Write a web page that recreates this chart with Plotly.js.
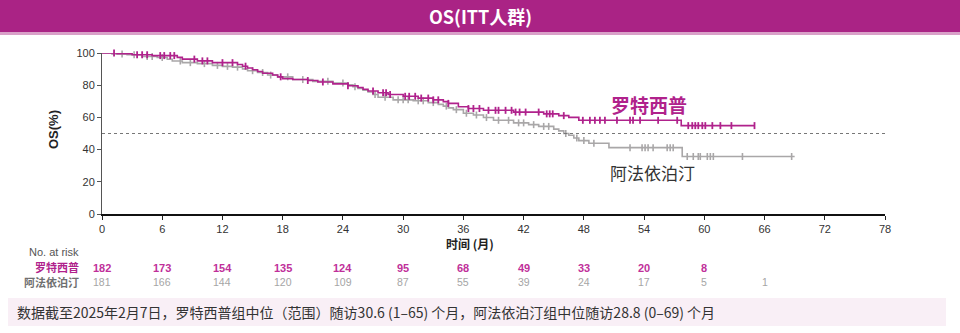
<!DOCTYPE html>
<html><head><meta charset="utf-8">
<script src="https://cdn.plot.ly/plotly-3.0.1.min.js"></script>
<style>html,body{margin:0;padding:0;background:#fff;}#chart{width:960px;height:333px;}</style>
</head><body><div id="chart"></div>
<script>
// ---- Data ----
const rusTime = [0, 1.5, 3, 5, 7.5, 8, 9.5, 11, 13.5, 14, 14.5, 15, 15.5, 16, 17, 17.5, 18, 19, 20.5, 21.5, 23, 24.5, 25.5, 26, 26.5, 27.5, 28.5, 30, 31.5, 33, 34, 34.5, 35.5, 36.5, 38, 41, 44, 45.5, 46.5, 47.5, 57.7, 65];
const rusSurv = [100, 99.5, 98.9, 98.4, 97.3, 96.2, 95.1, 94.0, 92.9, 91.8, 90.7, 89.6, 88.5, 87.4, 86.3, 85.2, 84.1, 83.5, 82.9, 82.0, 80.8, 79.7, 78.6, 77.5, 76.4, 75.3, 74.2, 73.1, 72.0, 70.9, 69.8, 68.7, 66.6, 65.5, 64.4, 63.3, 62.2, 61.1, 60.0, 58.2, 54.9, 54.9];
const rusCensor = [1.2, 3.5, 4, 4.5, 5.8, 6.2, 6.8, 7.2, 9.2, 10, 10.5, 12, 13, 14.3, 17.8, 20.5, 22, 24.5, 27, 28, 28.3, 28.7, 30.2, 30.6, 31.2, 31.8, 32.5, 33, 33.5, 34.5, 36.5, 37, 37.6, 38.5, 39.2, 39.5, 40.2, 40.8, 41.2, 41.6, 42.2, 43.5, 44.3, 44.6, 44.9, 46, 47.9, 48.6, 49.1, 49.6, 50.1, 51.3, 52.6, 52.9, 53.6, 55.4, 57.3, 58.4, 58.8, 59.1, 59.4, 59.8, 60.1, 60.8, 61.6, 62.7, 65];

const epoTime = [0, 1, 2.5, 4, 5.5, 6.5, 7, 8, 9.5, 11, 12, 13, 14, 14.5, 15.5, 16.5, 17.5, 19, 21, 23, 24.5, 25, 25.5, 26, 26.5, 27, 27.5, 29, 31, 32.5, 33.5, 34, 34.5, 35, 36, 37, 38, 39, 41, 42.5, 43.5, 45, 45.5, 46, 46.5, 47, 47.5, 48.5, 50.5, 57.8, 69];
const epoSurv = [100, 99.4, 98.9, 97.8, 97.2, 96.1, 95.0, 94.0, 93.4, 92.3, 91.7, 91.2, 90.1, 89.0, 87.9, 86.3, 85.2, 83.5, 82.4, 81.3, 80.2, 79.1, 78.0, 76.9, 75.8, 74.2, 72.5, 70.9, 70.3, 69.2, 68.1, 67.0, 65.9, 64.8, 62.6, 61.5, 59.9, 58.2, 56.6, 55.5, 54.4, 52.7, 51.6, 50.0, 48.9, 47.2, 45.6, 43.9, 41.2, 35.7, 35.7];
const epoCensor = [2, 3.2, 4.5, 5, 6, 7.8, 8.8, 10.2, 11.5, 12.5, 13.5, 15, 16, 16.8, 18.5, 20, 22.5, 24, 25.2, 27.2, 28.2, 29.5, 30, 30.5, 31.5, 32, 33, 34.3, 35.3, 36.3, 37.3, 38.3, 39.5, 40.5, 41.5, 42, 43, 44, 44.5, 46.2, 47.3, 48, 49, 52.6, 53.8, 54.1, 54.4, 54.9, 56.3, 56.6, 56.9, 58.3, 58.9, 59.4, 59.6, 60.3, 60.6, 60.9, 63.8, 68.7];

const riskTimes = [0, 6, 12, 18, 24, 30, 36, 42, 48, 54, 60, 66];
const rusRisk = [182, 173, 154, 135, 124, 95, 68, 49, 33, 20, 8];
const epoRisk = [181, 166, 144, 120, 109, 87, 55, 39, 24, 17, 5, 1];

const xTicks = [0, 6, 12, 18, 24, 30, 36, 42, 48, 54, 60, 66, 72, 78];
const yTicks = [0, 20, 40, 60, 80, 100];

const rusName = '罗特西普';
const epoName = '阿法依泊汀';
const chartTitle = 'OS(ITT人群)';
const footNote = '数据截至2025年2月7日，罗特西普组中位（范围）随访30.6 (1–65) 个月，阿法依泊汀组中位随访28.8 (0–69) 个月';

// ---- Styling ----
const MAG = '#B0228C';
const GRY = '#A9A7A8';
const CJK = '"Noto Sans CJK SC", "Liberation Sans", sans-serif';
const LAT = '"Liberation Sans", Arial, sans-serif';

function stepAt(times, surv, t) {
  let v = surv[0];
  for (let i = 0; i < times.length; i++) { if (times[i] <= t) v = surv[i]; else break; }
  return v;
}

// Plot geometry
const W = 960, H = 333;
const mL = 102, mR = 75, mT = 53, mB = 119;
const pw = W - mL - mR, ph = H - mT - mB;
const px2x = p => (p - mL) / pw;        // pixel -> paper x
const py2y = p => (H - mB - p) / ph;    // pixel -> paper y

const traces = [
  {x: epoTime, y: epoSurv, mode: 'lines', line: {shape: 'hv', color: GRY, width: 1.6}, hoverinfo: 'skip', cliponaxis: false},
  {x: epoCensor, y: epoCensor.map(t => stepAt(epoTime, epoSurv, t)), mode: 'markers', cliponaxis: false,
   marker: {symbol: 'line-ns-open', size: 5, color: GRY, line: {color: GRY, width: 1.6}}, hoverinfo: 'skip'},
  {x: rusTime, y: rusSurv, mode: 'lines', line: {shape: 'hv', color: MAG, width: 1.6}, hoverinfo: 'skip', cliponaxis: false},
  {x: rusCensor, y: rusCensor.map(t => stepAt(rusTime, rusSurv, t)), mode: 'markers', cliponaxis: false,
   marker: {symbol: 'line-ns-open', size: 5, color: MAG, line: {color: MAG, width: 1.8}}, hoverinfo: 'skip'},
  {x: [0, 78], y: [50, 50], mode: 'lines', line: {color: '#777', width: 1, dash: '3px,3px'}, hoverinfo: 'skip'}
];

const ann = [];
ann.push({xref: 'paper', yref: 'paper', x: px2x(480), y: py2y(16), text: '<b>' + chartTitle + '</b>', showarrow: false,
  font: {family: CJK, size: 18, color: '#fff'}, xanchor: 'center', yanchor: 'middle'});
ann.push({xref: 'paper', yref: 'paper', x: px2x(53), y: py2y(130), text: '<b>OS(%)</b>', showarrow: false, textangle: -90,
  font: {family: LAT, size: 13, color: '#222'}, xanchor: 'center', yanchor: 'middle'});
ann.push({xref: 'paper', yref: 'paper', x: px2x(470), y: py2y(244), text: '<b>时间 (月)</b>', showarrow: false,
  font: {family: CJK, size: 12, color: '#222'}, xanchor: 'center', yanchor: 'middle'});
ann.push({xref: 'paper', yref: 'paper', x: px2x(649), y: py2y(104), text: '<b>' + rusName + '</b>', showarrow: false,
  font: {family: CJK, size: 19, color: MAG}, xanchor: 'center', yanchor: 'middle'});
ann.push({xref: 'paper', yref: 'paper', x: px2x(652), y: py2y(172), text: epoName, showarrow: false,
  font: {family: CJK, size: 17, color: '#333'}, xanchor: 'center', yanchor: 'middle'});
ann.push({xref: 'paper', yref: 'paper', x: px2x(81), y: py2y(252), text: 'No. at risk', showarrow: false,
  font: {family: LAT, size: 11, color: '#555'}, xanchor: 'right', yanchor: 'middle'});
ann.push({xref: 'paper', yref: 'paper', x: px2x(81), y: py2y(267), text: '<b>' + rusName + '</b>', showarrow: false,
  font: {family: CJK, size: 11, color: MAG}, xanchor: 'right', yanchor: 'middle'});
ann.push({xref: 'paper', yref: 'paper', x: px2x(81), y: py2y(282), text: '<b>' + epoName + '</b>', showarrow: false,
  font: {family: CJK, size: 11, color: '#6f6f6f'}, xanchor: 'right', yanchor: 'middle'});
rusRisk.forEach((v, i) => ann.push({xref: 'x', yref: 'paper', x: riskTimes[i], y: py2y(268), text: '<b>' + v + '</b>', showarrow: false,
  font: {family: LAT, size: 11, color: '#C0309A'}, xanchor: 'center', yanchor: 'middle'}));
epoRisk.forEach((v, i) => ann.push({xref: 'x', yref: 'paper', x: riskTimes[i], y: py2y(282), text: String(v), showarrow: false,
  font: {family: LAT, size: 10.5, color: '#A5A5A5'}, xanchor: 'center', yanchor: 'middle'}));
ann.push({xref: 'paper', yref: 'paper', x: px2x(15), y: py2y(312), text: footNote, showarrow: false,
  font: {family: CJK, size: 14, color: '#333'}, xanchor: 'left', yanchor: 'middle'});

const shapes = [
  {type: 'rect', xref: 'paper', yref: 'paper', x0: px2x(0), x1: px2x(960), y0: py2y(33), y1: py2y(0), fillcolor: '#AA2385', line: {width: 0}, layer: 'below'},
  {type: 'rect', xref: 'paper', yref: 'paper', x0: px2x(0), x1: px2x(960), y0: py2y(35), y1: py2y(32), fillcolor: '#D9A0C8', line: {width: 0}, layer: 'below'},
  {type: 'rect', xref: 'paper', yref: 'paper', x0: px2x(8), x1: px2x(946), y0: py2y(326), y1: py2y(298), fillcolor: '#F9EFF6', line: {width: 0}, layer: 'below'}
];

const layout = {
  width: W, height: H,
  margin: {l: mL, r: mR, t: mT, b: mB, pad: 0},
  paper_bgcolor: '#fff', plot_bgcolor: '#fff',
  showlegend: false,
  xaxis: {range: [0, 78], tickvals: xTicks, ticks: 'outside', ticklen: 4, tickwidth: 1, tickcolor: '#222',
    showline: true, linecolor: '#111', linewidth: 1.5, showgrid: false, zeroline: false,
    tickfont: {family: LAT, size: 11, color: '#333'}, fixedrange: true},
  yaxis: {range: [0, 100], tickvals: yTicks, ticks: 'outside', ticklen: 4, tickwidth: 1, tickcolor: '#555',
    showline: true, linecolor: '#555', linewidth: 1, showgrid: false, zeroline: false,
    tickfont: {family: LAT, size: 11, color: '#333'}, fixedrange: true},
  annotations: ann,
  shapes: shapes
};

Plotly.newPlot('chart', traces, layout, {staticPlot: true, displayModeBar: false});
</script>
</body></html>
